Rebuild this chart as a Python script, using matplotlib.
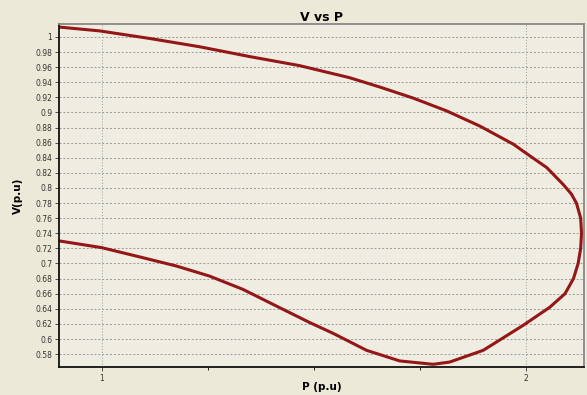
import matplotlib.pyplot as plt
from matplotlib.ticker import MultipleLocator

# curva PV (nariz)
p_vals = [0.901, 0.995, 1.113, 1.231, 1.349, 1.467, 1.585, 1.657, 1.735, 1.814,
          1.892, 1.971, 2.000, 2.050, 2.089, 2.108, 2.120, 2.130, 2.132, 2.130,
          2.124, 2.113, 2.093, 2.057, 1.994, 1.900, 1.821, 1.782, 1.703, 1.625,
          1.546, 1.490, 1.412, 1.333, 1.254, 1.176, 1.097, 1.000, 0.901]
v_vals = [1.013, 1.008, 0.998, 0.987, 0.974, 0.962, 0.946, 0.9335, 0.919, 0.902,
          0.882, 0.858, 0.8465, 0.827, 0.8045, 0.792, 0.780, 0.760, 0.740, 0.720,
          0.700, 0.680, 0.660, 0.642, 0.618, 0.585, 0.5695, 0.5665, 0.571, 0.585,
          0.6075, 0.622, 0.6437, 0.6658, 0.6834, 0.6967, 0.7077, 0.721, 0.7298]
y_ticks = [0.58, 0.6, 0.62, 0.64, 0.66, 0.68, 0.7, 0.72, 0.74, 0.76, 0.78, 0.8,
           0.82, 0.84, 0.86, 0.88, 0.9, 0.92, 0.94, 0.96, 0.98, 1]
x_ticks = [1, 2]

bg = "#ECE9D8"
fig = plt.figure(figsize=(5.87, 3.95), dpi=100, facecolor=bg)
ax = fig.add_axes([0.101, 0.071, 0.894, 0.868], facecolor="#EFECE2")

ax.plot(p_vals, v_vals, color="#951616", lw=2.2, solid_joinstyle="round")

ax.set_xlim(0.90, 2.138)
ax.set_ylim(0.563, 1.017)
ax.set_xticks(x_ticks)
ax.set_xticklabels(["1", "2"])
ax.xaxis.set_minor_locator(MultipleLocator(0.25))
ax.set_yticks(y_ticks)
ax.set_yticklabels(["%g" % t for t in y_ticks])
ax.tick_params(axis="both", labelsize=5.5, colors="#333333", length=3, width=0.6, pad=2)
ax.tick_params(axis="x", which="minor", length=2, width=0.6)

ax.grid(True, axis="y", color="#999999", linestyle=(0, (2, 2)), lw=0.7)
ax.grid(True, axis="x", which="major", color="#999999", linestyle=(0, (1, 2)), lw=0.7)

for s in ["left", "bottom"]:
    ax.spines[s].set_color("#111111")
    ax.spines[s].set_linewidth(1.3)
for s in ["top", "right"]:
    ax.spines[s].set_color("#888888")
    ax.spines[s].set_linewidth(1.3)

ax.set_title("V vs P", fontsize=9, fontweight="bold", pad=2)
ax.set_xlabel("P (p.u)", fontsize=7.5, fontweight="bold")
ax.xaxis.set_label_coords(0.5, -0.044)
ax.set_ylabel("V(p.u)", fontsize=7.5, fontweight="bold")
ax.yaxis.set_label_coords(-0.069, 0.5)

plt.savefig("out.png", facecolor=bg)
